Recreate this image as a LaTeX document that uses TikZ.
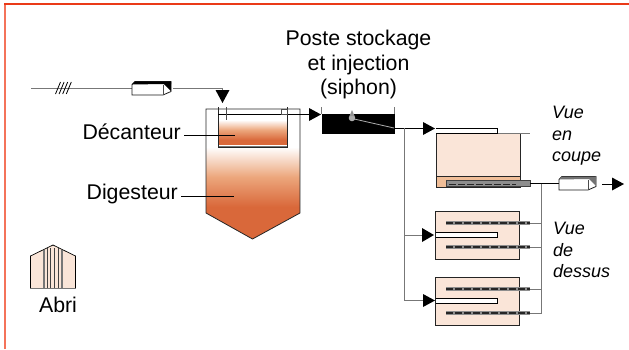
\documentclass[tikz,border=0pt]{standalone}
\usepackage{fontspec}
\setmainfont{Liberation Sans}
\usetikzlibrary{calc}
\definecolor{frameO}{HTML}{F4735A}
\definecolor{frameR}{HTML}{EA3A18}
\definecolor{peach}{HTML}{FAE5D8}
\definecolor{peachD}{HTML}{F0BE98}
\definecolor{peachM}{HTML}{ECA67C}
\definecolor{rust}{HTML}{D9683A}
\definecolor{grayL}{HTML}{777777}
\definecolor{grayP}{HTML}{8E8E8E}
\tikzset{
  x=1pt,y=-1pt,
  wire/.style={draw=black,line width=0.8pt},
  graywire/.style={draw=grayL,line width=1pt},
  tank/.style={draw=black!85,line width=0.8pt},
  lab/.style={font=\fontsize{21.3}{24.5}\selectfont,inner sep=0pt},
  ilab/.style={font=\fontsize{18}{21.7}\selectfont\itshape,inner sep=0pt,align=left,anchor=north west},
  sludge/.style={top color=white,bottom color=rust,middle color=peachM},
}
\newcommand{\triR}[2]{\fill (#1-12,#2-6.5) -- (#1,#2) -- (#1-12,#2+6.5) -- cycle;}
\newcommand{\pipeH}[3]{%
  \fill[grayP] (#1,#3-3) rectangle (#2,#3+3);
  \draw[black!85,line width=1.8pt,dash pattern=on 7pt off 2pt] (#1+3,#3+1.4) -- (#2-14,#3+1.4);
  \draw[black!75,line width=0.6pt] (#1,#3-3) rectangle (#2,#3+3);}
\newcommand{\pipeT}[3]{%
  \draw[grayP,line width=3.8pt] (#1,#3) -- (#2,#3);
  \draw[black!85,line width=1.6pt,dash pattern=on 7pt off 2pt] (#1,#3) -- (#2,#3);}
% #1 left, #2 body right, #3 top, #4 colour of the dark parts
\newcommand{\meter}[4]{%
  \draw[black!90,line width=0.8pt,fill=white] (#1,#3+3) -- (#1+3,#3) -- (#2+8,#3) -- (#2+8,#3+10) -- (#2,#3+13.5) -- (#1,#3+13.5) -- cycle;
  \fill[#4] (#1+3,#3) -- (#2+8,#3) -- (#2+8,#3+2.5) -- (#2,#3+2.5) -- (#1,#3+3) -- cycle;
  \draw[black!70,line width=0.7pt] (#2,#3+3) -- (#2,#3+13.5);
  \fill[#4] (#2+1,#3+2.5) -- (#2+8,#3) -- (#2+8,#3+9.5) -- cycle;
  \fill[white] (#2+1.5,#3+5) -- (#2+5.5,#3+8) -- (#2+1.5,#3+10.5) -- cycle;
}
\begin{document}
\begin{tikzpicture}
\useasboundingbox (0,0) rectangle (629,349);
% frame
\draw[frameO,line width=1.4pt] (5,349) -- (5,4);
\draw[frameR,line width=1.2pt] (4.3,4) -- (629,4);

% feed line
\coordinate (feedA) at (31,88);
\coordinate (feedB) at (132,88);
\coordinate (feedC) at (173,88);
\coordinate (feedD) at (222.5,88);
\draw[graywire] (feedA) -- (feedB);
\draw[graywire] (feedC) -- (feedD) -- ++(0,3);
\foreach \i in {0,1,2,3}{\draw[black,line width=0.8pt] (55.5+\i*3.6,94) -- (60.5+\i*3.6,82);}
\meter{132}{163}{81.5}{black}
\fill (215.5,90) -- (229.5,90) -- (222.5,103) -- cycle;

% digester
\begin{scope}
  \clip (206,109) -- (300,109) -- (300,213) -- (252.5,239) -- (206,213) -- cycle;
  \fill[white] (206,109) rectangle (300,147);
  \shade[sludge] (206,147) rectangle (300,207);
  \fill[rust] (206,206.5) rectangle (300,240);
\end{scope}
\draw[tank] (206,109) -- (300,109) -- (300,213) -- (252.5,239) -- (206,213) -- cycle;
% decanter
\fill[white] (218,114) rectangle (287,120);
\shade[sludge] (218,120) rectangle (287,140);
\fill[rust] (218,139.5) rectangle (287,145);
\draw[tank] (218,107) -- (218,147) -- (287,147) -- (287,107);
\draw[grayL,line width=1pt] (218.5,146) -- (286.5,146);
\draw[black,line width=0.7pt] (218,114) -- (300,114);
\draw[black!70,line width=0.6pt] (226,107) -- (226,120);
\draw[black!70,line width=0.6pt,fill=white] (281,109) rectangle (287,114);

\node[lab,anchor=east] (dec) at (181,132) {Décanteur};
\node[lab,anchor=east] (dig) at (178,193.5) {Digesteur};
\coordinate (decEnd) at (235,135);
\coordinate (digEnd) at (234,196);
\draw[black,line width=0.8pt] (184,135) -- (decEnd);
\draw[black,line width=0.8pt] (181,196) -- (digEnd);

% pump station
\node[lab,align=center,anchor=north] (poste) at (358.5,30) {Poste stockage\\et injection\\(siphon)};
\fill[black] (321.5,114) rectangle (394.5,134);
\draw[grayL,line width=1pt] (321.5,107) -- (321.5,114);
\draw[grayL,line width=1pt] (394,107) -- (394,114);
\draw[grayL!60,line width=0.8pt] (352,118.5) -- (394,128);
\fill[grayL!60] (352,118) circle (3.3);
\fill[grayL!80] (352,110) -- (354.5,116) -- (349.5,116) -- cycle;
\draw[wire] (300,114) -- (310,114);
\triR{321}{114.5}

% distribution
\draw[wire] (394.5,128) -- (424,128);
\triR{435}{128.5}
\draw[graywire] (404,128) -- (404,300.5) -- (424,300.5);
\draw[graywire] (404,235) -- (423,235);
\fill (422,228) -- (434,235) -- (422,242) -- cycle;
\fill (423,294) -- (435,300.5) -- (423,307) -- cycle;

% section tank
\fill[peach] (436,133) rectangle (520.5,176.5);
\fill[peachD] (436,176.5) rectangle (520.5,187);
\draw[tank,line width=1pt] (436,133) -- (436,187) -- (520.5,187) -- (520.5,133);
\draw[tank,line width=0.7pt] (436,176.5) -- (520.5,176.5);
\draw[grayL,line width=1pt] (436,133) -- (530,133);
\draw[black,line width=0.8pt,fill=white] (436,128.5) -- (497,128.5) -- (497,133) -- (436,133);
\pipeH{446}{530}{183}
\draw[wire] (530,183.5) -- (559,183.5);
\meter{559}{588}{176.5}{black!55}
\draw[wire] (602,184) -- (613,184);
\triR{624}{184}
\draw[graywire] (541.5,183.5) -- (541.5,313) -- (530,313);
\draw[graywire] (530,223) -- (541.5,223);
\draw[graywire] (530,247) -- (541.5,247);
\draw[graywire] (530,289) -- (541.5,289);

% top view tanks
\foreach \t in {211,277}{
  \fill[peach] (435.5,\t) rectangle (519.5,\t+48);
  \draw[black!70!grayL,line width=0.9pt] (435.5,\t) rectangle (519.5,\t+48);
  \pipeT{446}{530}{\t+12}
  \pipeT{446}{530}{\t+36}
  \draw[black,line width=0.8pt,fill=white] (435.5,\t+21.5) -- (497,\t+21.5) -- (497,\t+26.5) -- (435.5,\t+26.5);
}

% labels
\node[ilab] (vc) at (552,106) {Vue\\en\\coupe};
\node[ilab] (vd) at (553,222) {Vue\\de\\dessus};

% shelter
\fill[peach] (30.5,288) -- (30.5,256) -- (53,245) -- (75.5,256) -- (75.5,288) -- cycle;
\draw[black,line width=0.7pt] (30.5,288) -- (30.5,256) -- (53,245) -- (75.5,256) -- (75.5,288);
\draw[grayL,line width=1pt] (30,288) -- (76,288);
\draw[grayL,line width=1.4pt] (44,250) -- (44,288) (62,250) -- (62,288);
\foreach \xx in {47.5,50,54.5,58.5}{\draw[black!75,line width=0.8pt] (\xx,248) -- (\xx,288);}
\node[lab,anchor=center] (abri) at (58,305) {Abri};
\end{tikzpicture}
\end{document}
